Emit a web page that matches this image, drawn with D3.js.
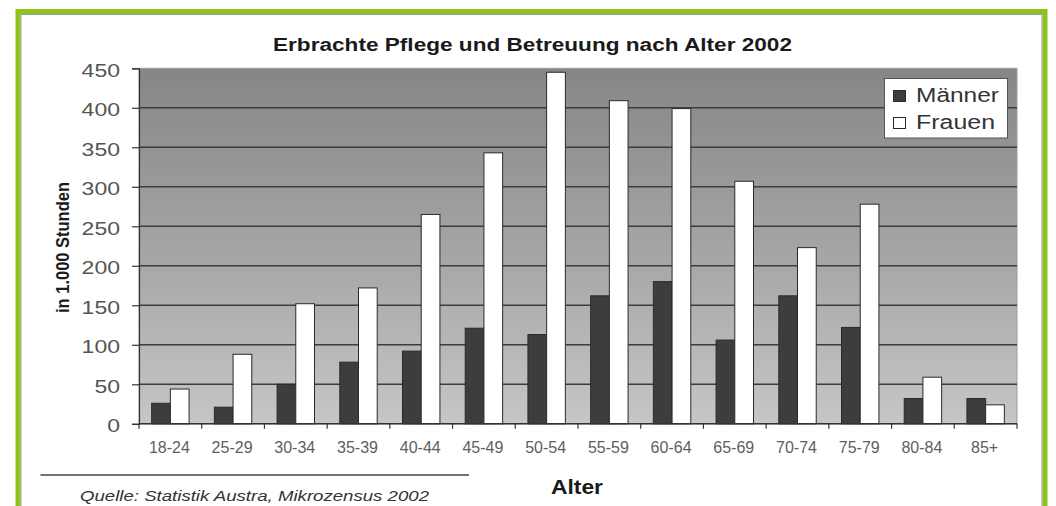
<!DOCTYPE html>
<html><head><meta charset="utf-8">
<script src="https://cdn.jsdelivr.net/npm/d3@7"></script>
<style>html,body{margin:0;padding:0;background:#fff}svg{display:block}</style>
</head><body>
<svg id="chart" width="1056" height="506"></svg>
<script>
// Age groups and hours of care provided (in 1,000 hours), 2002
const ageGroups = ["18-24","25-29","30-34","35-39","40-44","45-49","50-54","55-59","60-64","65-69","70-74","75-79","80-84","85+"];
const maennerValues = [26, 21, 50, 78, 92, 121, 113, 162, 180, 106, 162, 122, 32, 32];
const frauenValues  = [44, 88, 152, 172, 265, 343, 445, 409, 399, 307, 223, 278, 59, 24];
const seriesNames = ["Männer", "Frauen"];
const yTickValues = [0, 50, 100, 150, 200, 250, 300, 350, 400, 450];

const titleText = "Erbrachte Pflege und Betreuung nach Alter 2002";
const yAxisTitle = "in 1.000 Stunden";
const xAxisTitle = "Alter";
const sourceText = "Quelle: Statistik Austra, Mikrozensus 2002";

const FONT = "'Liberation Sans', Arial, sans-serif";
const svg = d3.select("#chart");

const plot = {left: 139, right: 1017, top: 68.3, bottom: 423.8};

// frame
svg.append("rect").attr("x", 18).attr("y", 11.5).attr("width", 1027).attr("height", 520)
  .attr("fill", "none").attr("stroke", "#8fc31c").attr("stroke-width", 5);
svg.append("rect").attr("x", 21).attr("y", 14.5).attr("width", 1021).attr("height", 520)
  .attr("fill", "none").attr("stroke", "#9a9a9a").attr("stroke-width", 1);

// scales
const x0 = d3.scaleBand().domain(ageGroups).range([plot.left, plot.right]).paddingInner(0).paddingOuter(0);
const x1 = d3.scaleBand().domain(seriesNames).range([0, x0.step()]).paddingInner(0).paddingOuter(0.676);
const y = d3.scaleLinear().domain([0, 450]).range([plot.bottom, plot.top]);

// plot background gradient
const defs = svg.append("defs");
const grad = defs.append("linearGradient").attr("id", "bg").attr("x1", 0).attr("y1", 0).attr("x2", 0).attr("y2", 1);
grad.append("stop").attr("offset", "0%").attr("stop-color", "#868686");
grad.append("stop").attr("offset", "50%").attr("stop-color", "#a4a4a4");
grad.append("stop").attr("offset", "100%").attr("stop-color", "#c6c6c6");

svg.append("rect").attr("x", plot.left).attr("y", plot.top)
  .attr("width", plot.right - plot.left).attr("height", plot.bottom - plot.top)
  .attr("fill", "url(#bg)").attr("stroke", "#9c9c9c").attr("stroke-width", 1);

// gridlines
svg.append("g").selectAll("line").data(yTickValues.filter(v => v > 0 && v < 450)).join("line")
  .attr("x1", plot.left).attr("x2", plot.right)
  .attr("y1", d => y(d)).attr("y2", d => y(d))
  .attr("stroke", "#3c3c3c").attr("stroke-width", 1.5);

// bars
const rows = ageGroups.map((g, i) => ({group: g, values: [
  {key: "Männer", value: maennerValues[i]},
  {key: "Frauen", value: frauenValues[i]}
]}));
const fills = {"Männer": "#3d3d3d", "Frauen": "#ffffff"};

svg.append("g").selectAll("g").data(rows).join("g")
  .attr("transform", d => `translate(${x0(d.group)},0)`)
  .selectAll("rect").data(d => d.values).join("rect")
  .attr("x", d => x1(d.key)).attr("width", x1.bandwidth())
  .attr("y", d => y(d.value)).attr("height", d => y(0) - y(d.value))
  .attr("fill", d => fills[d.key]).attr("stroke", "#2a2a2a").attr("stroke-width", 1);

// y axis
const yAxis = svg.append("g").attr("transform", `translate(${plot.left},0)`)
  .call(d3.axisLeft(y).tickValues(yTickValues).tickSize(7).tickFormat(""));
yAxis.select(".domain").attr("stroke", "#333").attr("stroke-width", 1.2);
yAxis.selectAll(".tick line").attr("stroke", "#333").attr("stroke-width", 1.2);
yAxis.selectAll(".tick").append("text")
  .attr("x", -19).attr("y", 7.7).attr("text-anchor", "end")
  .attr("fill", "#555").style("font-family", FONT).style("font-size", "18px")
  .attr("textLength", d => String(d).length * 12.8).attr("lengthAdjust", "spacingAndGlyphs")
  .text(d => d);

// x axis: line with ticks at the category boundaries
const xAxis = svg.append("g");
xAxis.append("line").attr("x1", plot.left).attr("x2", plot.right)
  .attr("y1", plot.bottom).attr("y2", plot.bottom).attr("stroke", "#333").attr("stroke-width", 1.5);
xAxis.selectAll("line.tk").data(ageGroups.concat(["end"])).join("line").attr("class", "tk")
  .attr("x1", (d, i) => plot.left + i * x0.step()).attr("x2", (d, i) => plot.left + i * x0.step())
  .attr("y1", plot.bottom).attr("y2", plot.bottom + 5).attr("stroke", "#333").attr("stroke-width", 1.2);
xAxis.selectAll("text").data(ageGroups).join("text")
  .attr("x", d => x0(d) + x0.bandwidth() / 2 - 1).attr("y", 453)
  .attr("text-anchor", "middle").attr("fill", "#5e5e5e")
  .style("font-family", FONT).style("font-size", "16px")
  .text(d => d);

// title
svg.append("text").attr("x", 532.5).attr("y", 50.7).attr("text-anchor", "middle")
  .attr("fill", "#1a1a1a").style("font-family", FONT).style("font-size", "18px").style("font-weight", "bold")
  .attr("textLength", 519).attr("lengthAdjust", "spacingAndGlyphs")
  .text(titleText);

// y axis title
svg.append("text").attr("transform", "translate(69,247.5) rotate(-90)")
  .attr("text-anchor", "middle").attr("fill", "#1a1a1a")
  .style("font-family", "'Liberation Sans Narrow', 'Liberation Sans', Arial, sans-serif")
  .style("font-size", "19px").style("font-weight", "bold")
  .attr("textLength", 131).attr("lengthAdjust", "spacingAndGlyphs")
  .text(yAxisTitle);

// x axis title
svg.append("text").attr("x", 577).attr("y", 494).attr("text-anchor", "middle")
  .attr("fill", "#1a1a1a").style("font-family", FONT).style("font-size", "21px").style("font-weight", "bold")
  .attr("textLength", 52).attr("lengthAdjust", "spacingAndGlyphs")
  .text(xAxisTitle);

// source line and note
svg.append("line").attr("x1", 40.5).attr("x2", 469).attr("y1", 475).attr("y2", 475)
  .attr("stroke", "#444").attr("stroke-width", 1.5);
svg.append("text").attr("x", 80).attr("y", 501)
  .attr("fill", "#333").style("font-family", FONT).style("font-size", "14px").style("font-style", "italic")
  .attr("textLength", 349).attr("lengthAdjust", "spacingAndGlyphs")
  .text(sourceText);

// legend
const legend = svg.append("g");
legend.append("rect").attr("x", 884.5).attr("y", 78.5).attr("width", 123).attr("height", 59.5)
  .attr("fill", "#fff").attr("stroke", "#555").attr("stroke-width", 1);
const legendRows = [{key: "Männer", y: 102}, {key: "Frauen", y: 129}];
legendRows.forEach(r => {
  legend.append("rect").attr("x", 893.5).attr("y", r.y - 11.5).attr("width", 12).attr("height", 11)
    .attr("fill", fills[r.key]).attr("stroke", "#2a2a2a").attr("stroke-width", 1);
  legend.append("text").attr("x", 916).attr("y", r.y)
    .attr("fill", "#333").style("font-family", FONT).style("font-size", "20px")
    .attr("textLength", r.key === "Männer" ? 83 : 79).attr("lengthAdjust", "spacingAndGlyphs")
    .text(r.key);
});
</script>
</body></html>
